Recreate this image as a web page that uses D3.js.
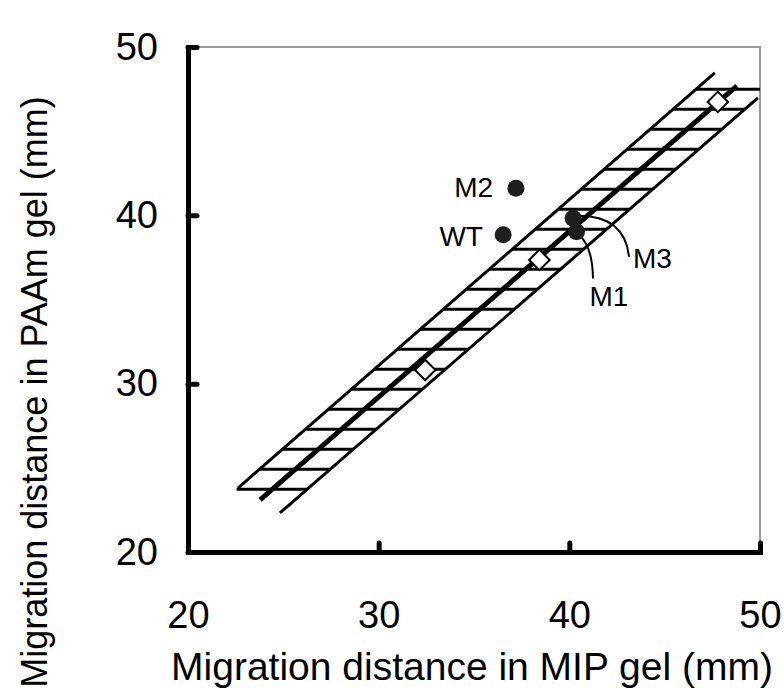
<!DOCTYPE html>
<html>
<head>
<meta charset="utf-8">
<script src="https://cdn.jsdelivr.net/npm/d3@7"></script>
<style>
  body { margin: 0; background: #fff; }
  svg { display: block; font-family: "Liberation Sans", Arial, sans-serif; }
</style>
</head>
<body>
<svg id="chart" width="784" height="693"></svg>
<script>
// axis ticks
var xTicks = [20, 30, 40, 50];
var yTicks = [20, 30, 40, 50];

// calibration band: the three parallel lines, as [x, y] end points (mm)
var bandLeft = [[22.62, 23.80], [47.63, 48.46]];
var bandCenter = [[23.78, 23.09], [48.79, 47.69]];
var bandRight = [[24.82, 22.32], [49.89, 46.98]];

// horizontal rungs of the band (y, mm)
var rungs = [23.73, 24.92, 26.11, 27.29, 28.48, 29.67, 30.86, 32.05, 33.23, 34.42,
  35.61, 36.80, 37.99, 39.17, 40.36, 41.55, 42.74, 43.93, 45.11, 46.30, 47.49];

// standards (open diamonds)
var stdX = [32.44, 38.43, 47.79];
var stdY = [30.81, 37.35, 46.74];

// samples (filled circles)
var sampleNames = ['M2', 'WT', 'M3', 'M1'];
var sampleX = [37.20, 36.53, 40.20, 40.38];
var sampleY = [41.61, 38.84, 39.83, 39.03];

var plotL = 188, plotR = 760, plotT = 47, plotB = 552;

var svg = d3.select('#chart');

var x = d3.scaleLinear().domain([20, 50]).range([plotL, plotR]);
var y = d3.scaleLinear().domain([20, 50]).range([plotB, plotT]);

svg.append('clipPath').attr('id', 'plot')
  .append('rect')
  .attr('x', plotL).attr('y', plotT)
  .attr('width', plotR - plotL).attr('height', plotB - plotT);

// thin grey frame on top and right
svg.append('path')
  .attr('d', 'M' + x(20) + ',' + y(50) + 'H' + x(50) + 'V' + y(20))
  .attr('fill', 'none')
  .attr('stroke', '#9a9a9a')
  .attr('stroke-width', 2);

var line = d3.line().x(function(d) { return x(d[0]); }).y(function(d) { return y(d[1]); });

// x position on a band line for a given y
function xAt(seg, yy) {
  var a = seg[0], b = seg[1];
  return a[0] + (yy - a[1]) * (b[0] - a[0]) / (b[1] - a[1]);
}

var band = svg.append('g').attr('clip-path', 'url(#plot)');

band.selectAll('line.rung')
  .data(rungs)
  .enter()
  .append('line')
  .attr('class', 'rung')
  .attr('x1', function(d) { return x(xAt(bandLeft, d)); })
  .attr('x2', function(d) { return x(Math.min(50.5, xAt(bandRight, d))); })
  .attr('y1', function(d) { return y(d); })
  .attr('y2', function(d) { return y(d); })
  .attr('stroke', '#000')
  .attr('stroke-width', 3);

band.selectAll('path.edge')
  .data([bandLeft, bandRight])
  .enter()
  .append('path')
  .attr('class', 'edge')
  .attr('d', line)
  .attr('fill', 'none')
  .attr('stroke', '#000')
  .attr('stroke-width', 3);

band.append('path')
  .attr('d', line(bandCenter))
  .attr('fill', 'none')
  .attr('stroke', '#000')
  .attr('stroke-width', 5);

// standards
svg.selectAll('path.std')
  .data(stdX)
  .enter()
  .append('path')
  .attr('class', 'std')
  .attr('d', d3.symbol(d3.symbolSquare, 210))
  .attr('transform', function(d, i) { return 'translate(' + x(d) + ',' + y(stdY[i]) + ') rotate(45)'; })
  .attr('fill', '#fff')
  .attr('stroke', '#000')
  .attr('stroke-width', 2);

// leader lines for M3 and M1
var leaders = [
  [[40.42, 39.97], [42.9, 40.0], [43.13, 37.54]],
  [[40.50, 38.85], [41.22, 38.15], [41.24, 36.25]]
];
svg.selectAll('path.leader')
  .data(leaders)
  .enter()
  .append('path')
  .attr('class', 'leader')
  .attr('d', function(d) {
    return 'M' + x(d[0][0]) + ',' + y(d[0][1]) +
      'Q' + x(d[1][0]) + ',' + y(d[1][1]) + ' ' + x(d[2][0]) + ',' + y(d[2][1]);
  })
  .attr('fill', 'none')
  .attr('stroke', '#000')
  .attr('stroke-width', 2);

svg.selectAll('circle.sample')
  .data(sampleX)
  .enter()
  .append('circle')
  .attr('class', 'sample')
  .attr('cx', function(d) { return x(d); })
  .attr('cy', function(d, i) { return y(sampleY[i]); })
  .attr('r', 8.5)
  .attr('fill', '#1e1e1e');

// sample labels: [x, y, anchor] in mm
var labelPos = [[36.0, 41.68, 'end'], [35.47, 38.78, 'end'], [44.36, 37.47, 'middle'], [42.08, 35.21, 'middle']];
svg.selectAll('text.lab')
  .data(sampleNames)
  .enter()
  .append('text')
  .attr('class', 'lab')
  .attr('x', function(d, i) { return x(labelPos[i][0]); })
  .attr('y', function(d, i) { return y(labelPos[i][1]); })
  .attr('dy', '0.36em')
  .attr('text-anchor', function(d, i) { return labelPos[i][2]; })
  .style('font-size', '28px')
  .text(function(d) { return d; });

// axes
var yAxis = svg.append('g')
  .attr('transform', 'translate(' + plotL + ',0)')
  .call(d3.axisLeft(y).tickValues(yTicks).tickSizeInner(-9).tickSizeOuter(0).tickPadding(30));

var xAxis = svg.append('g')
  .attr('transform', 'translate(0,' + plotB + ')')
  .call(d3.axisBottom(x).tickValues(xTicks).tickSizeInner(-9).tickSizeOuter(0).tickPadding(49));

[xAxis, yAxis].forEach(function(ax) {
  ax.select('.domain').attr('stroke', '#000').attr('stroke-width', 5).attr('stroke-linecap', 'square');
  ax.selectAll('.tick line').attr('stroke', '#000').attr('stroke-width', 5).attr('stroke-linecap', 'round');
  ax.selectAll('.tick text')
    .attr('fill', '#000')
    .style('font-size', '38px')
    .style('font-family', '"Liberation Sans", Arial, sans-serif');
});

// titles
svg.append('text')
  .attr('x', 472)
  .attr('y', 680)
  .attr('text-anchor', 'middle')
  .style('font-size', '39px')
  .text('Migration distance in MIP gel (mm)');

svg.append('text')
  .attr('transform', 'translate(47,392) rotate(-90)')
  .attr('text-anchor', 'middle')
  .style('font-size', '36px')
  .text('Migration distance in PAAm gel (mm)');
</script>
</body>
</html>
